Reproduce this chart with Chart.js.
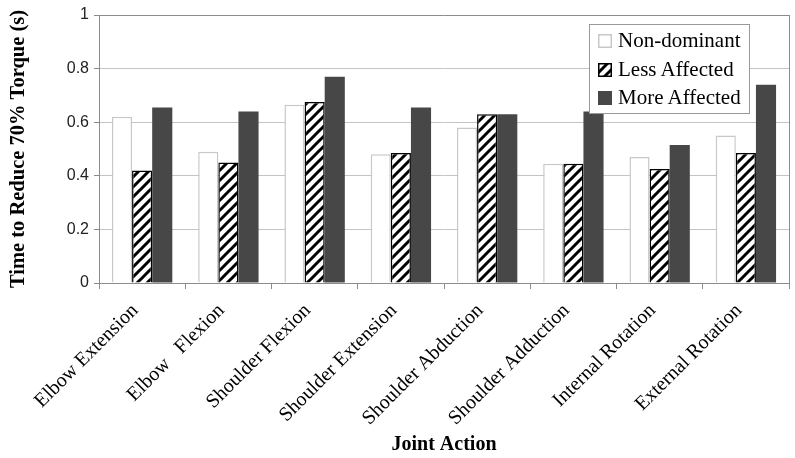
<!DOCTYPE html>
<html>
<head>
<meta charset="utf-8">
<script src="https://cdn.jsdelivr.net/npm/chart.js@4.4.0/dist/chart.umd.min.js"></script>
<style>
  body { margin: 0; background: #fff; }
  #wrap { position: relative; width: 795px; height: 458px; }
  #legend {
    position: absolute; left: 589px; top: 24px; width: 161px;
    background: #fff; border: 1px solid #999; padding: 1px 0 1px 8px;
    font-family: "Liberation Serif", serif; font-size: 21px; color: #000;
    box-sizing: border-box;
  }
  #legend div { height: 28.5px; line-height: 28.5px; white-space: nowrap; }
  #legend canvas { vertical-align: -1px; margin-right: 6px; }
</style>
</head>
<body>
<div id="wrap">
  <canvas id="myChart" width="795" height="458"></canvas>
  <div id="legend"></div>
</div>
<script>
const categories = ['Elbow Extension', 'Elbow   Flexion', 'Shoulder Flexion', 'Shoulder Extension',
  'Shoulder Abduction', 'Shoulder Adduction', 'Internal Rotation', 'External Rotation'];
const nonDominant = [0.62, 0.49, 0.665, 0.48, 0.58, 0.445, 0.47, 0.55];
const lessAffected = [0.42, 0.45, 0.675, 0.485, 0.63, 0.445, 0.425, 0.485];
const moreAffected = [0.655, 0.64, 0.77, 0.655, 0.63, 0.64, 0.515, 0.74];
const yTicks = [0, 0.2, 0.4, 0.6, 0.8, 1];

// diagonal hatch for the "less affected" bars
function makeHatch() {
  const c = document.createElement('canvas');
  c.width = 10; c.height = 10;
  const g = c.getContext('2d');
  g.fillStyle = '#fff';
  g.fillRect(0, 0, 10, 10);
  g.strokeStyle = '#000';
  g.lineWidth = 3;
  g.beginPath();
  g.moveTo(-2, 12); g.lineTo(12, -2);
  g.moveTo(-7, 7); g.lineTo(7, -7);
  g.moveTo(3, 17); g.lineTo(17, 3);
  g.stroke();
  return g.createPattern(c, 'repeat');
}
const hatch = makeHatch();

const plotBorder = {
  id: 'plotBorder',
  afterDraw(chart) {
    const a = chart.chartArea, ctx = chart.ctx;
    ctx.save();
    ctx.strokeStyle = '#8c8c8c';
    ctx.lineWidth = 1;
    ctx.beginPath();
    ctx.moveTo(Math.round(a.right) + 0.5, a.top);
    ctx.lineTo(Math.round(a.right) + 0.5, a.bottom);
    ctx.stroke();
    ctx.restore();
  }
};

const data = {
  labels: categories,
  datasets: [
    { label: 'Non-dominant', data: nonDominant, backgroundColor: '#fff', borderColor: '#c8c8c8', borderWidth: 1.5 },
    { label: 'Less Affected', data: lessAffected, backgroundColor: hatch, borderColor: '#000', borderWidth: 1.5 },
    { label: 'More Affected', data: moreAffected, backgroundColor: '#474747', borderColor: '#474747', borderWidth: 0 }
  ]
};

const config = {
  type: 'bar',
  data: data,
  options: {
    responsive: false,
    animation: false,
    layout: { padding: { top: 15, right: 6, left: 0, bottom: 0 } },
    datasets: { bar: { categoryPercentage: 0.7, barPercentage: 1.0 } },
    plugins: { legend: { display: false }, tooltip: { enabled: false } },
    scales: {
      x: {
        afterFit: (s) => { s.height = 175; },
        grid: { drawOnChartArea: false, offset: true, tickLength: 6, color: '#8c8c8c' },
        border: { color: '#8c8c8c' },
        ticks: {
          minRotation: 45, maxRotation: 45, color: '#000', padding: 10, labelOffset: -7,
          font: { family: 'Liberation Serif', size: 20 }
        },
        title: {
          display: true, text: 'Joint Action', color: '#000',
          font: { family: 'Liberation Serif', size: 20, weight: 'bold' },
          padding: { top: 4, bottom: 1 }
        }
      },
      y: {
        min: 0, max: 1,
        afterFit: (s) => { s.width = 99; },
        afterBuildTicks: (s) => { s.ticks = yTicks.map(v => ({ value: v })); },
        grid: {
          color: (c) => c.tick && c.tick.value === 1 ? '#8c8c8c' : '#c4c4c4',
          tickColor: '#8c8c8c', tickLength: 5
        },
        border: { color: '#8c8c8c' },
        ticks: {
          color: '#222', padding: 5,
          font: { family: 'Liberation Sans', size: 16 },
          callback: (v) => String(Math.round(v * 10) / 10)
        },
        title: {
          display: true, text: 'Time to Reduce 70% Torque (s)', color: '#000',
          font: { family: 'Liberation Serif', size: 20.5, weight: 'bold' },
          padding: { top: 6, bottom: 4 }
        }
      }
    }
  },
  plugins: [plotBorder]
};

const ctx = document.getElementById('myChart');
const chart = new Chart(ctx, config);

// legend box inside the plot, built from the datasets
const legend = document.getElementById('legend');
chart.data.datasets.forEach((ds) => {
  const row = document.createElement('div');
  const sw = document.createElement('canvas');
  sw.width = 14; sw.height = 14;
  const g = sw.getContext('2d');
  g.fillStyle = ds.backgroundColor;
  g.fillRect(0, 0, 14, 14);
  if (ds.borderWidth) {
    g.strokeStyle = ds.borderColor;
    g.lineWidth = 1.5;
    g.strokeRect(0.75, 0.75, 12.5, 12.5);
  }
  row.appendChild(sw);
  row.appendChild(document.createTextNode(ds.label));
  legend.appendChild(row);
});
</script>
</body>
</html>
